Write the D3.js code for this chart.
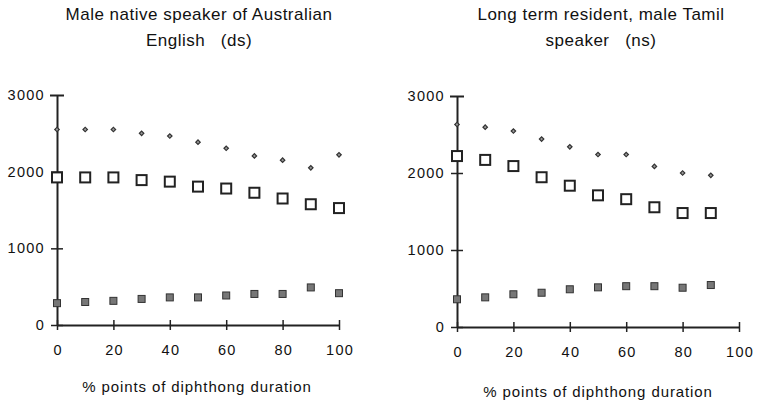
<!DOCTYPE html>
<html>
<head>
<meta charset="utf-8">
<script src="https://cdnjs.cloudflare.com/ajax/libs/d3/7.8.5/d3.min.js"></script>
<style>
  body { margin: 0; background: #fff; }
  text { font-family: "Liberation Sans", Arial, sans-serif; fill: #111; }
  .title { font-size: 17px; letter-spacing: 0.5px; }
  .tick text { font-size: 14.5px; letter-spacing: 1.3px; }
  .axisLabel { font-size: 15px; letter-spacing: 0.9px; }
</style>
</head>
<body>
<div id="plotSect"></div>
<script>
/* global d3 */

// x positions (% of diphthong duration)
let pctDS = [0, 10, 20, 30, 40, 50, 60, 70, 80, 90, 100];
let pctNS = [0, 10, 20, 30, 40, 50, 60, 70, 80, 90];

// ds: male native speaker of Australian English
let f3DS = [2550, 2550, 2550, 2500, 2465, 2385, 2305, 2205, 2150, 2050, 2220];
let f2DS = [1925, 1925, 1925, 1890, 1870, 1805, 1780, 1725, 1650, 1575, 1525];
let f1DS = [285, 300, 315, 340, 360, 360, 385, 405, 405, 490, 415];

// ns: long term resident, male Tamil speaker
let f3NS = [2630, 2595, 2545, 2440, 2340, 2240, 2240, 2085, 2000, 1970];
let f2NS = [2220, 2170, 2090, 1945, 1835, 1710, 1660, 1555, 1480, 1480];
let f1NS = [360, 385, 425, 445, 490, 515, 530, 530, 510, 545];

let xTicks = [0, 20, 40, 60, 80, 100];
let yTicks = [0, 1000, 2000, 3000];

let SVGwidth = 758,
    SVGheight = 401;

let svg = d3.select("#plotSect").append("svg")
    .attr("width", SVGwidth)
    .attr("height", SVGheight);

let panels = [
    {title: ["Male native speaker of Australian", "English   (ds)"],
     pct: pctDS, f3: f3DS, f2: f2DS, f1: f1DS,
     x0: 57, x1: 339, yTop: 95, yBottom: 325, titleX: 199, labelX: 197, labelY: 392},
    {title: ["Long term resident, male Tamil", "speaker   (ns)"],
     pct: pctNS, f3: f3NS, f2: f2NS, f1: f1NS,
     x0: 457, x1: 739, yTop: 96, yBottom: 327, titleX: 601, labelX: 598, labelY: 397}
];

panels.forEach(function(p) {
    let xScale = d3.scaleLinear().domain([0, 100]).range([p.x0, p.x1]);
    let yScale = d3.scaleLinear().domain([0, 3000]).range([p.yBottom, p.yTop]);

    let g = svg.append("g");

    // titles
    g.selectAll(".title")
        .data(p.title)
        .enter().append("text")
        .attr("class", "title")
        .attr("x", p.titleX)
        .attr("y", function(d, i) { return 20 + i * 26; })
        .style("text-anchor", "middle")
        .style("white-space", "pre")
        .text(function(d) { return d; });

    // axes - ticks cross the axis line
    let yAxis = d3.axisLeft(yScale).tickValues(yTicks).tickFormat(d3.format("d"))
        .tickSizeInner(-6).tickSizeOuter(0).tickPadding(12);
    let yG = g.append("g")
        .attr("transform", "translate(" + p.x0 + ",0)")
        .call(yAxis);
    yG.selectAll(".tick line")
        .attr("x1", -6).attr("x2", 6);

    let xAxis = d3.axisBottom(xScale).tickValues(xTicks).tickFormat(d3.format("d"))
        .tickSizeInner(-5).tickSizeOuter(0).tickPadding(20);
    let xG = g.append("g")
        .attr("transform", "translate(0," + p.yBottom + ")")
        .call(xAxis);
    xG.selectAll(".tick line")
        .attr("y1", -5).attr("y2", 5);
    xG.selectAll(".tick text").attr("dx", "0.65px");

    [yG, xG].forEach(function(a) {
        a.select(".domain").attr("stroke", "#222").attr("stroke-width", 2);
        a.selectAll(".tick line").attr("stroke", "#222").attr("stroke-width", 1.5);
    });
    yG.selectAll(".tick").filter(function(d) { return d === 3000; })
        .select("line").attr("x1", -7).attr("x2", 7).attr("stroke-width", 2);

    // F3: small diamonds
    g.selectAll(".f3")
        .data(p.pct)
        .enter().append("path")
        .attr("class", "f3")
        .attr("d", d3.symbol().type(d3.symbolSquare).size(10))
        .attr("transform", function(d, i) {
            return "translate(" + xScale(d) + "," + yScale(p.f3[i]) + ") rotate(45)";
        })
        .style("fill", "#999")
        .style("stroke", "#333")
        .style("stroke-width", 1.2);

    // F2: open squares
    g.selectAll(".f2")
        .data(p.pct)
        .enter().append("rect")
        .attr("class", "f2")
        .attr("x", function(d) { return xScale(d) - 5; })
        .attr("y", function(d, i) { return yScale(p.f2[i]) - 5; })
        .attr("width", 10)
        .attr("height", 10)
        .style("fill", "#fff")
        .style("stroke", "#222")
        .style("stroke-width", 2);

    // F1: small filled squares
    g.selectAll(".f1")
        .data(p.pct)
        .enter().append("rect")
        .attr("class", "f1")
        .attr("x", function(d) { return xScale(d) - 3.5; })
        .attr("y", function(d, i) { return yScale(p.f1[i]) - 3.5; })
        .attr("width", 7)
        .attr("height", 7)
        .style("fill", "#777")
        .style("stroke", "#333")
        .style("stroke-width", 1);

    g.append("text")
        .attr("class", "axisLabel")
        .attr("x", p.labelX)
        .attr("y", p.labelY)
        .style("text-anchor", "middle")
        .text("% points of diphthong duration");
});
</script>
</body>
</html>
